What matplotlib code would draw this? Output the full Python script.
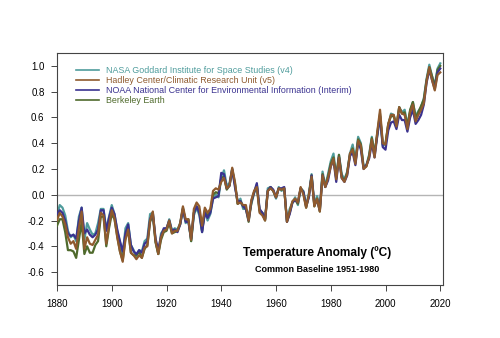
import numpy as np
import matplotlib
matplotlib.use("Agg")
import matplotlib.pyplot as plt

plt.rcParams['font.family'] = ['Liberation Sans', 'DejaVu Sans']

years = np.arange(1880, 2021)

nasa = [-0.16, -0.08, -0.10, -0.16, -0.28, -0.33, -0.31, -0.36, -0.17, -0.10,
        -0.35, -0.22, -0.27, -0.31, -0.30, -0.22, -0.11, -0.11, -0.27, -0.17,
        -0.08, -0.15, -0.28, -0.37, -0.47, -0.26, -0.22, -0.39, -0.43, -0.48,
        -0.43, -0.44, -0.36, -0.34, -0.15, -0.14, -0.36, -0.46, -0.30, -0.27,
        -0.27, -0.19, -0.28, -0.26, -0.27, -0.22, -0.10, -0.22, -0.20, -0.36,
        -0.16, -0.10, -0.16, -0.29, -0.13, -0.20, -0.15, -0.03, -0.00, -0.02,
        0.13, 0.19, 0.07, 0.09, 0.20, 0.09, -0.07, -0.03, -0.11, -0.11,
        -0.17, -0.07, 0.01, 0.08, -0.13, -0.14, -0.19, 0.05, 0.06, 0.03,
        -0.03, 0.06, 0.03, 0.05, -0.20, -0.11, -0.06, -0.02, -0.08, 0.05,
        0.03, -0.08, 0.01, 0.16, -0.07, -0.01, -0.10, 0.18, 0.07, 0.16,
        0.26, 0.32, 0.14, 0.31, 0.16, 0.12, 0.18, 0.32, 0.39, 0.27,
        0.45, 0.40, 0.22, 0.23, 0.31, 0.45, 0.33, 0.46, 0.61, 0.38,
        0.39, 0.54, 0.63, 0.62, 0.53, 0.68, 0.64, 0.66, 0.54, 0.65,
        0.72, 0.61, 0.65, 0.68, 0.75, 0.90, 1.01, 0.92, 0.85, 0.98,
        1.02]

hadley = [-0.20, -0.14, -0.17, -0.23, -0.33, -0.38, -0.36, -0.42, -0.26, -0.13,
          -0.42, -0.33, -0.38, -0.39, -0.35, -0.31, -0.14, -0.16, -0.38, -0.24,
          -0.12, -0.18, -0.33, -0.44, -0.52, -0.35, -0.27, -0.45, -0.47, -0.50,
          -0.47, -0.49, -0.41, -0.40, -0.20, -0.13, -0.36, -0.46, -0.33, -0.28,
          -0.27, -0.20, -0.30, -0.28, -0.28, -0.22, -0.09, -0.19, -0.19, -0.35,
          -0.11, -0.06, -0.09, -0.24, -0.10, -0.14, -0.11, 0.03, 0.05, 0.04,
          0.10, 0.13, 0.05, 0.07, 0.21, 0.10, -0.07, -0.06, -0.08, -0.08,
          -0.20, -0.04, 0.03, 0.06, -0.14, -0.16, -0.20, 0.03, 0.05, 0.03,
          -0.02, 0.05, 0.04, 0.05, -0.21, -0.13, -0.05, -0.03, -0.06, 0.06,
          0.00, -0.10, 0.00, 0.14, -0.09, -0.03, -0.13, 0.15, 0.06, 0.13,
          0.22, 0.28, 0.12, 0.29, 0.13, 0.10, 0.16, 0.32, 0.35, 0.24,
          0.42, 0.38, 0.20, 0.22, 0.29, 0.43, 0.29, 0.49, 0.66, 0.40,
          0.39, 0.55, 0.62, 0.62, 0.53, 0.68, 0.63, 0.62, 0.51, 0.64,
          0.70, 0.57, 0.62, 0.66, 0.71, 0.88, 0.99, 0.89, 0.81, 0.93,
          0.95]

noaa = [-0.15, -0.12, -0.14, -0.20, -0.30, -0.32, -0.31, -0.34, -0.20, -0.10,
        -0.30, -0.27, -0.31, -0.33, -0.31, -0.27, -0.12, -0.12, -0.28, -0.18,
        -0.10, -0.15, -0.27, -0.36, -0.44, -0.30, -0.23, -0.39, -0.44, -0.46,
        -0.43, -0.45, -0.38, -0.36, -0.19, -0.14, -0.34, -0.43, -0.32, -0.26,
        -0.26, -0.20, -0.28, -0.27, -0.29, -0.23, -0.11, -0.21, -0.21, -0.34,
        -0.14, -0.09, -0.14, -0.29, -0.14, -0.18, -0.14, -0.03, -0.02, -0.01,
        0.17, 0.16, 0.05, 0.07, 0.20, 0.06, -0.05, -0.05, -0.09, -0.11,
        -0.20, -0.05, 0.02, 0.09, -0.11, -0.14, -0.19, 0.03, 0.06, 0.04,
        -0.02, 0.05, 0.05, 0.06, -0.21, -0.15, -0.06, -0.04, -0.06, 0.05,
        0.02, -0.09, -0.02, 0.15, -0.08, -0.04, -0.12, 0.15, 0.06, 0.11,
        0.22, 0.27, 0.10, 0.29, 0.13, 0.10, 0.15, 0.30, 0.33, 0.23,
        0.41, 0.35, 0.20, 0.23, 0.28, 0.40, 0.29, 0.46, 0.61, 0.37,
        0.35, 0.50, 0.56, 0.57, 0.51, 0.62, 0.58, 0.58, 0.49, 0.60,
        0.66, 0.55, 0.58, 0.62, 0.70, 0.87, 0.97, 0.89, 0.82, 0.95,
        0.98]

berkeley = [-0.24, -0.19, -0.19, -0.29, -0.43, -0.43, -0.44, -0.49, -0.35, -0.21,
            -0.46, -0.40, -0.45, -0.45, -0.39, -0.36, -0.17, -0.17, -0.40, -0.26,
            -0.15, -0.19, -0.32, -0.44, -0.51, -0.33, -0.28, -0.45, -0.47, -0.47,
            -0.44, -0.49, -0.42, -0.39, -0.21, -0.16, -0.37, -0.46, -0.35, -0.29,
            -0.28, -0.22, -0.30, -0.29, -0.28, -0.23, -0.11, -0.20, -0.19, -0.36,
            -0.14, -0.09, -0.12, -0.28, -0.12, -0.16, -0.13, 0.00, 0.02, 0.01,
            0.13, 0.14, 0.04, 0.07, 0.19, 0.08, -0.07, -0.05, -0.09, -0.11,
            -0.21, -0.06, 0.02, 0.07, -0.12, -0.14, -0.20, 0.03, 0.06, 0.03,
            -0.02, 0.05, 0.04, 0.05, -0.21, -0.14, -0.06, -0.04, -0.07, 0.05,
            0.02, -0.10, -0.01, 0.15, -0.09, -0.03, -0.13, 0.16, 0.06, 0.14,
            0.24, 0.29, 0.13, 0.31, 0.14, 0.11, 0.17, 0.31, 0.36, 0.25,
            0.43, 0.39, 0.21, 0.22, 0.30, 0.44, 0.31, 0.48, 0.63, 0.39,
            0.40, 0.55, 0.61, 0.61, 0.53, 0.68, 0.63, 0.64, 0.53, 0.66,
            0.72, 0.60, 0.64, 0.69, 0.74, 0.89, 0.99, 0.92, 0.84, 0.97,
            1.00]

labels = ['NASA Goddard Institute for Space Studies (v4)',
          'Hadley Center/Climatic Research Unit (v5)',
          'NOAA National Center for Environmental Information (Interim)',
          'Berkeley Earth']
colors = ['#4f9c9c', '#8f5a2e', '#3a3290', '#4f6a2c']

fig = plt.figure(figsize=(5, 3.38), dpi=100)
ax = fig.add_axes([0.114, 0.157, 0.772, 0.686])

ax.axhline(0, color='#b5b5b5', lw=1.0, zorder=1)

series = [nasa, hadley, noaa, berkeley]
# draw order: nasa, berkeley, noaa, then hadley on top
zorders = [2, 5, 4, 3]
handles = []
for s, c, z in zip(series, colors, zorders):
    h, = ax.plot(years, s, color=c, lw=1.6, zorder=z)
    handles.append(h)

leg = ax.legend(handles, labels, loc='upper left', bbox_to_anchor=(0.04, 0.96),
                frameon=False, fontsize=6.4, handlelength=2.6, handletextpad=0.8,
                labelspacing=0.12, borderaxespad=0)
for txt, c in zip(leg.get_texts(), colors):
    txt.set_color(c)
for h in leg.legend_handles:
    h.set_linewidth(1.2)

ax.text(0.675, 0.138, 'Temperature Anomaly (ºC)', transform=ax.transAxes,
        ha='center', va='center', fontsize=8.6, fontweight='bold')
ax.text(0.675, 0.065, 'Common Baseline 1951-1980', transform=ax.transAxes,
        ha='center', va='center', fontsize=6.5, fontweight='bold')

ax.set_xlim(1880, 2021)
ax.set_ylim(-0.7, 1.1)
ax.set_xticks(range(1880, 2021, 20))
ax.set_yticks(np.arange(-0.6, 1.01, 0.2))
ax.set_yticklabels(['%.1f' % v for v in np.arange(-0.6, 1.01, 0.2)])
ax.tick_params(labelsize=7, length=4, width=0.7, color='#444444', pad=5)
ax.tick_params(axis='x', pad=6)
for s in ax.spines.values():
    s.set_color('#444444')
    s.set_linewidth(0.8)

fig.savefig('out.png', dpi=100)
